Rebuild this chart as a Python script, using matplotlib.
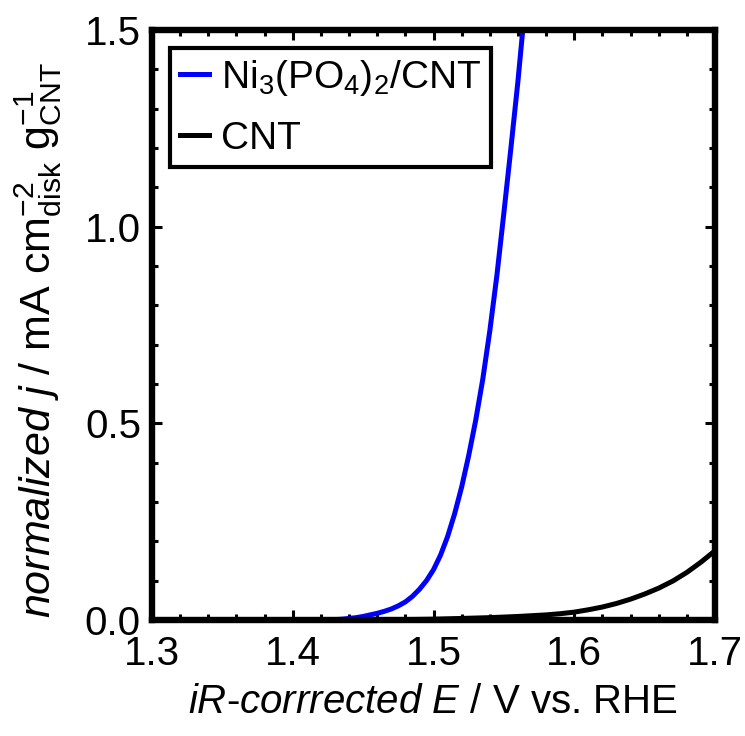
import matplotlib
matplotlib.use("Agg")
import matplotlib.pyplot as plt
from matplotlib import font_manager as fm
from matplotlib.ticker import MultipleLocator

# ---- data ----
e_ni = [1.400, 1.420, 1.430, 1.435, 1.440, 1.445, 1.450, 1.455, 1.460, 1.465,
        1.470, 1.475, 1.480, 1.485, 1.490, 1.495, 1.500, 1.505, 1.510, 1.515,
        1.520, 1.525, 1.530, 1.535, 1.540, 1.545, 1.550, 1.555, 1.560, 1.565,
        1.570]
j_ni = [0.000, 0.000, 0.001, 0.002, 0.004, 0.006, 0.009, 0.013, 0.017, 0.022,
        0.028, 0.036, 0.046, 0.060, 0.078, 0.100, 0.128, 0.165, 0.212, 0.270,
        0.338, 0.418, 0.508, 0.612, 0.735, 0.875, 1.035, 1.200, 1.370, 1.560,
        1.760]

e_cnt = [1.30, 1.45, 1.48, 1.50, 1.52, 1.54, 1.56, 1.57, 1.58, 1.59, 1.60,
         1.61, 1.62, 1.63, 1.64, 1.65, 1.66, 1.67, 1.68, 1.69, 1.70]
j_cnt = [0.000, 0.000, 0.001, 0.002, 0.004, 0.006, 0.009, 0.011, 0.013, 0.016,
         0.020, 0.026, 0.033, 0.042, 0.053, 0.066, 0.081, 0.099, 0.121, 0.147,
         0.176]

labels = ["Ni$_3$(PO$_4$)$_2$/CNT", "CNT"]
colors = ["#0000ff", "#000000"]

xticks = [1.3, 1.4, 1.5, 1.6, 1.7]
yticks = [0.0, 0.5, 1.0, 1.5]

names = {f.name for f in fm.fontManager.ttflist}
base = "Liberation Sans" if "Liberation Sans" in names else "DejaVu Sans"
narrow = "Liberation Sans Narrow" if "Liberation Sans Narrow" in names else base

plt.rcParams["font.family"] = [base, "DejaVu Sans"]
plt.rcParams["mathtext.fontset"] = "custom"
plt.rcParams["mathtext.rm"] = base
plt.rcParams["mathtext.it"] = base + ":italic"
plt.rcParams["mathtext.sf"] = narrow
plt.rcParams["mathtext.bf"] = narrow + ":italic"

FS = 29

fig = plt.figure(figsize=(7.45, 7.36), dpi=100)
W, H = 745, 736
left, right, top, bottom = 152, 715, 30, 620
ax = fig.add_axes([left / W, (H - bottom) / H, (right - left) / W, (bottom - top) / H])

ax.plot(e_ni, j_ni, color=colors[0], lw=3.6, label=labels[0])
ax.plot(e_cnt, j_cnt, color=colors[1], lw=3.6, label=labels[1])

ax.set_xlim(1.3, 1.7)
ax.set_ylim(0, 1.5)
ax.set_xticks(xticks)
ax.set_yticks(yticks)
ax.set_xticklabels([f"{v:.1f}" for v in xticks])
ax.set_yticklabels([f"{v:.1f}" for v in yticks])
ax.xaxis.set_minor_locator(MultipleLocator(0.02))
ax.yaxis.set_minor_locator(MultipleLocator(0.1))
ax.tick_params(which="both", direction="in", top=True, right=True, width=2.2)
ax.tick_params(which="major", length=7.5, labelsize=FS, pad=8)
ax.tick_params(axis="x", which="major", pad=11)
ax.tick_params(which="minor", length=4)
for s in ax.spines.values():
    s.set_linewidth(4.6)

ax.set_xlabel(r"$\mathit{iR}$-$\mathit{corrrected}$ $\mathit{E}$ / V vs. RHE",
              fontsize=FS, labelpad=7)
ax.set_ylabel(r"$\mathbf{normalized\ j}$ / mA cm$^{\mathsf{-2}}_{\mathsf{disk}}$ g$^{\mathsf{-1}}_{\mathsf{CNT}}$",
              fontsize=31, family=[narrow, "DejaVu Sans"])
ax.yaxis.set_label_coords(-0.157, 0.475)

leg = ax.legend(loc="upper left", bbox_to_anchor=(18 / 563, 1 - 18 / 590),
                borderaxespad=0, fontsize=28, frameon=True, fancybox=False,
                framealpha=1, edgecolor="black", handlelength=0.75,
                handletextpad=0.3, borderpad=0.25, labelspacing=0.6)
leg.get_frame().set_linewidth(3.0)
leg.get_frame().set_edgecolor("black")
for l in leg.get_lines():
    l.set_linewidth(3.6)

fig.savefig("out.png", dpi=100)
